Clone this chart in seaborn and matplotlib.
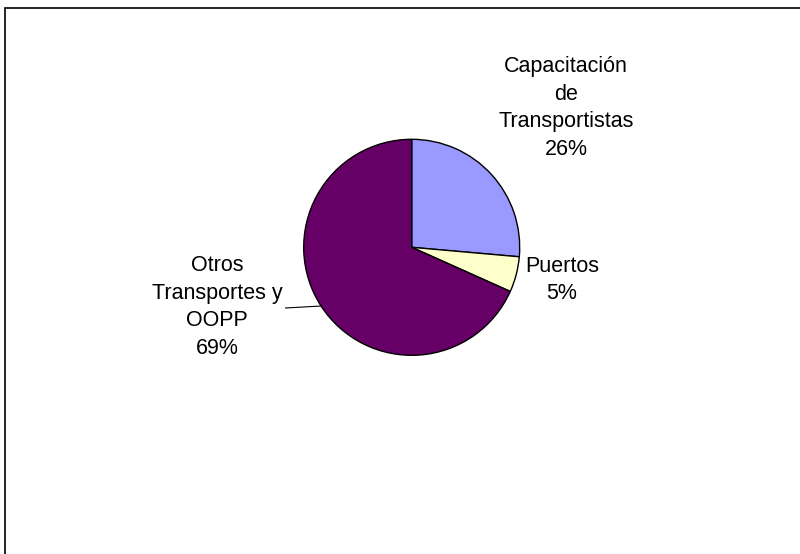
import matplotlib
matplotlib.use("Agg")
import matplotlib.pyplot as plt
from matplotlib.patches import Rectangle
import numpy as np
import seaborn as sns

# data
categories = ["Capacitación\nde\nTransportistas", "Puertos", "Otros\nTransportes y\nOOPP"]
shares = [26.4, 5.3, 68.3]
pct_labels = ["26%", "5%", "69%"]

sns.set_theme(style="white")
plt.rcParams['font.family'] = ['Liberation Sans', 'DejaVu Sans']

colors = ["#9999FF", "#FFFFCC", "#660066"]

fig = plt.figure(figsize=(8, 5.54), dpi=100)
ax = fig.add_axes([0, 0, 1, 1])

# pie centre at (411.7, 247.3) px, radius 108 px
cx, cy, r = 411.7, 247.3, 108.0

wedges, _ = ax.pie(shares, colors=colors, startangle=90, counterclock=False,
                   wedgeprops=dict(edgecolor='black', linewidth=1.0),
                   radius=1.0, center=(0, 0), frame=True)
ax.axis('off')
ax.set_xlim(-cx / r, (800 - cx) / r)
ax.set_ylim((cy - 554) / r, cy / r)

# label centres (px) for each slice
label_px = [(566, 108), (562, 280), (217, 307)]
for cat, pct, (px, py) in zip(categories, pct_labels, label_px):
    ax.text((px - cx) / r, (cy - py) / r, cat + "\n" + pct, ha='center', va='center',
            fontsize=15.5, linespacing=1.42, color='black')

# leader line for the big slice
w = wedges[2]
mid = np.deg2rad((w.theta1 + w.theta2) / 2)
ax.plot([np.cos(mid) * 1.0, (285 - cx) / r], [np.sin(mid) * 1.0, (cy - 308) / r],
        color='black', linewidth=0.8, solid_capstyle='butt')

fig.patches.append(Rectangle((5 / 800, -0.1), 1.2, 1.1 - 8 / 554, transform=fig.transFigure,
                             fill=False, edgecolor='black', linewidth=1.2))

fig.savefig("out.png", dpi=100)
